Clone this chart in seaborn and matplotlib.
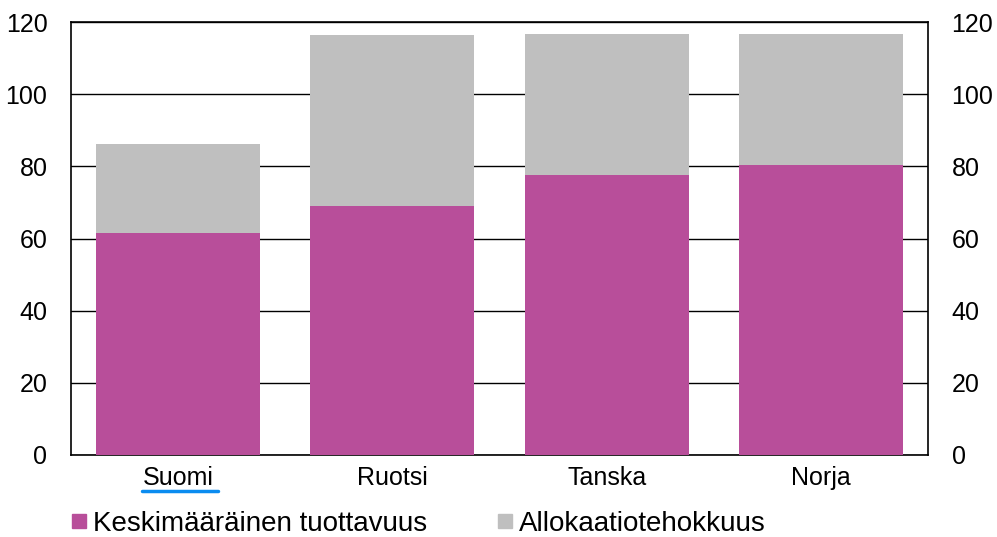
import matplotlib
matplotlib.use("Agg")
import matplotlib.pyplot as plt
import seaborn as sns
import pandas as pd
from matplotlib.lines import Line2D

categories = ["Suomi", "Ruotsi", "Tanska", "Norja"]
keskimaarainen = [61.4, 69.1, 77.6, 80.4]
allokaatio = [24.9, 47.2, 39.1, 36.3]
yticks = [0, 20, 40, 60, 80, 100, 120]
series_names = ["Keskimääräinen tuottavuus", "Allokaatiotehokkuus"]

purple = "#B84E9A"
gray = "#BFBFBF"

sns.set_theme(style="white")
plt.rcParams["font.family"] = ["Liberation Sans", "DejaVu Sans"]
plt.rcParams["text.color"] = "black"

df = pd.DataFrame({"cat": categories, "base": keskimaarainen, "alloc": allokaatio})
df["total"] = df["base"] + df["alloc"]

fig = plt.figure(figsize=(9.97, 5.37), dpi=100)
ax = fig.add_axes([71/997, 1-455/537, 857/997, 433/537])

sns.barplot(data=df, x="cat", y="total", color=gray, width=0.765, saturation=1,
            linewidth=0, ax=ax, zorder=3)
sns.barplot(data=df, x="cat", y="base", color=purple, width=0.765, saturation=1,
            linewidth=0, ax=ax, zorder=4)

ax.set_xlim(-0.5, 3.5)
ax.set_ylim(0, 120)
ax.set_yticks(yticks)
ax.yaxis.grid(True, color="black", linewidth=1.0, zorder=0)
ax.set_axisbelow(True)
ax.set_xlabel("")
ax.set_ylabel("")
for s in ax.spines.values():
    s.set_color("black")
    s.set_linewidth(1.2)
    s.set_visible(True)
ax.tick_params(axis="x", length=0, labelsize=18, colors="black", pad=8)
ax.tick_params(axis="y", length=0, labelsize=18, colors="black", pad=17,
               labelright=True, right=False)

handles = [Line2D([0], [0], marker="s", linestyle="", markersize=10.5, color=purple),
           Line2D([0], [0], marker="s", linestyle="", markersize=10.5, color=gray)]
fig.legend(handles, series_names, loc="lower left", bbox_to_anchor=(70.6/997, 0.0), ncol=2,
           frameon=False, fontsize=20, handletextpad=0.2, columnspacing=2.52,
           handlelength=0.6, borderpad=0, borderaxespad=0, labelcolor="black")

# blue underline beneath "Suomi"
fig.add_artist(Line2D([142/997, 218/997], [1-491/537, 1-491/537], color="#0A8CF0", linewidth=2.5))

fig.savefig("out.png", dpi=100)
